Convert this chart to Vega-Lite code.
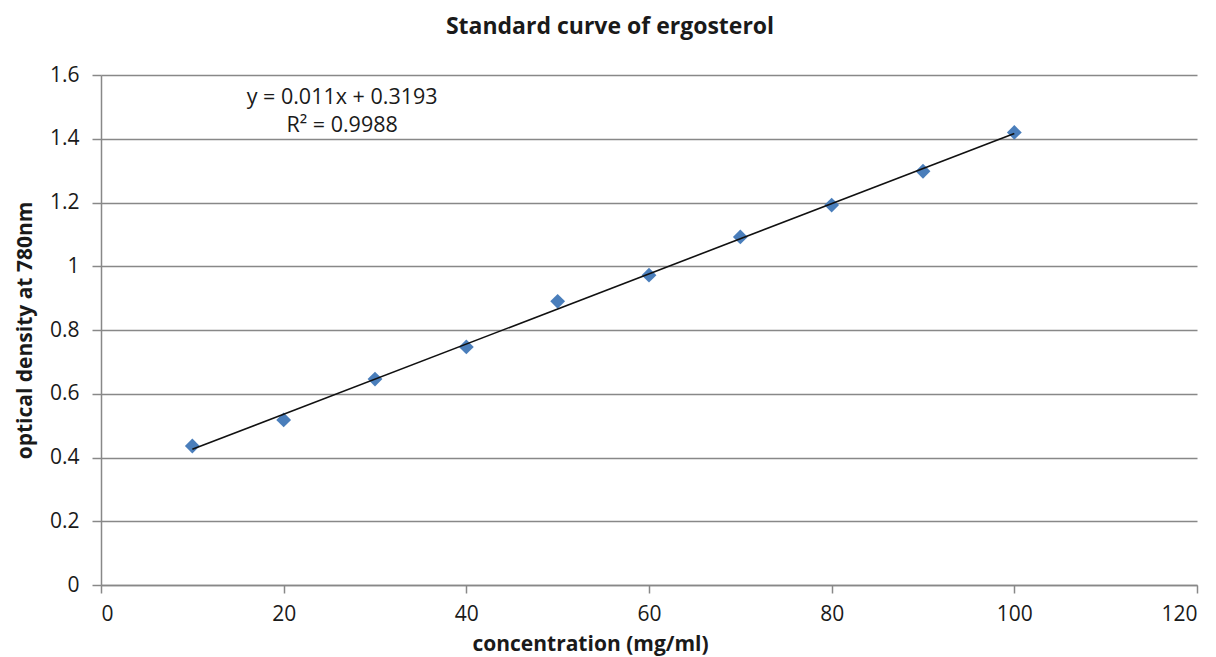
{
  "$schema": "https://vega.github.io/schema/vega-lite/v6.json",
  "width": 1096,
  "height": 510,
  "autosize": {"type": "none"},
  "padding": {"left": 101, "top": 75, "right": 19, "bottom": 72},
  "background": "white",
  "title": {
    "text": "Standard curve of ergosterol",
    "font": "Open Sans",
    "fontSize": 23,
    "fontWeight": "bold",
    "color": "#1a1a1a",
    "anchor": "middle",
    "frame": "group",
    "dx": -39,
    "offset": 25
  },
  "datasets": {
    "points": [
      {"concentration": 10, "od": 0.436},
      {"concentration": 20, "od": 0.518},
      {"concentration": 30, "od": 0.646},
      {"concentration": 40, "od": 0.747},
      {"concentration": 50, "od": 0.89},
      {"concentration": 60, "od": 0.972},
      {"concentration": 70, "od": 1.092},
      {"concentration": 80, "od": 1.192},
      {"concentration": 90, "od": 1.298},
      {"concentration": 100, "od": 1.42}
    ],
    "labels": [
      {"concentration": 26.4, "od": 1.528, "label": "y = 0.011x + 0.3193"},
      {"concentration": 26.4, "od": 1.44, "label": "R² = 0.9988"}
    ]
  },
  "layer": [
    {
      "data": {"name": "points"},
      "mark": {"type": "point", "shape": "diamond", "filled": true, "size": 220, "color": "#4A7EBB", "opacity": 1},
      "encoding": {
        "x": {
          "field": "concentration",
          "type": "quantitative",
          "scale": {"domain": [0, 120], "nice": false},
          "axis": {
            "title": "concentration (mg/ml)",
            "values": [0, 20, 40, 60, 80, 100, 120],
            "grid": false,
            "tickSize": 8,
            "labelPadding": 10,
            "titlePadding": 9,
            "titleX": 489
          }
        },
        "y": {
          "field": "od",
          "type": "quantitative",
          "scale": {"domain": [0, 1.6], "nice": false},
          "axis": {
            "title": "optical density at 780nm",
            "values": [0, 0.2, 0.4, 0.6, 0.8, 1, 1.2, 1.4, 1.6],
            "format": ".1~f",
            "grid": true,
            "tickSize": 9,
            "labelPadding": 13,
            "titlePadding": 14
          }
        }
      }
    },
    {
      "data": {"name": "points"},
      "transform": [
        {"regression": "od", "on": "concentration", "method": "linear", "extent": [10, 100]}
      ],
      "mark": {"type": "line", "color": "#111111", "strokeWidth": 1.6},
      "encoding": {
        "x": {"field": "concentration", "type": "quantitative"},
        "y": {"field": "od", "type": "quantitative"}
      }
    },
    {
      "data": {"name": "labels"},
      "mark": {"type": "text", "font": "Open Sans", "fontSize": 21.5, "color": "#1a1a1a", "align": "center", "baseline": "middle"},
      "encoding": {
        "x": {"field": "concentration", "type": "quantitative"},
        "y": {"field": "od", "type": "quantitative"},
        "text": {"field": "label"}
      }
    }
  ],
  "config": {
    "view": {"stroke": null},
    "axis": {
      "labelFont": "Open Sans",
      "labelFontSize": 21,
      "labelColor": "#1a1a1a",
      "titleFont": "Open Sans",
      "titleFontSize": 21,
      "titleFontWeight": "bold",
      "titleColor": "#1a1a1a",
      "domainColor": "#888888",
      "tickColor": "#888888",
      "gridColor": "#888888",
      "domainWidth": 1.5,
      "tickWidth": 1.5,
      "gridWidth": 1.5
    }
  }
}
